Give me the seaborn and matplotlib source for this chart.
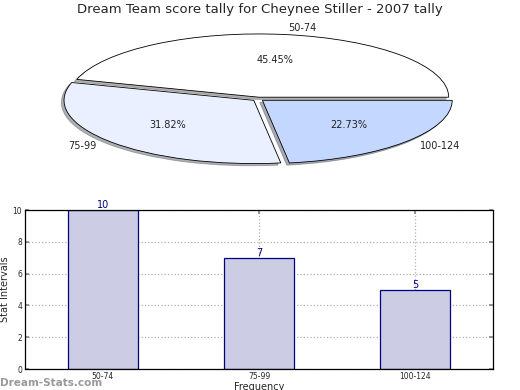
# =========================================================
# DREAM TEAM SCORE TALLY - PIE + BAR
# =========================================================

import numpy as np
import pandas as pd
import matplotlib
matplotlib.use("Agg")
import matplotlib.pyplot as plt
import seaborn as sns

# =========================================================
# DATA
# =========================================================

intervals = ["50-74", "75-99", "100-124"]
counts = [10, 7, 5]
pie_colors = ["#FFFFFF", "#EAF0FF", "#C4D8FF"]

title = "Dream Team score tally for Cheynee Stiller - 2007 tally"

# =========================================================
# STYLE
# =========================================================

sns.set_theme(style="white")
plt.rcParams['font.family'] = ['DejaVu Sans']

fig = plt.figure(figsize=(5.2, 3.9), dpi=100)

# =========================================================
# PIE CHART (flattened)
# =========================================================

ax_pie = fig.add_axes([0, 0.5513, 1, 0.3974])

wedges, texts, autotexts = ax_pie.pie(
    counts,
    labels=intervals,
    colors=pie_colors,
    explode=[0.03, 0.03, 0.03],
    autopct='%1.2f%%',
    startangle=0,
    shadow={'ox': -0.01, 'oy': -0.025, 'shade': 0.6},
    wedgeprops={'edgecolor': 'black', 'linewidth': 0.6},
    textprops={'fontsize': 7, 'color': '#222222'}
)

ax_pie.set_aspect('auto')
ax_pie.set_xlim(-1.36, 1.38)
ax_pie.set_ylim(-1.2, 1.25)
ax_pie.axis('off')

fig.text(0.5, 1 - 10 / 390, title, ha='center', va='center', fontsize=9.5)

# =========================================================
# BAR CHART
# =========================================================

ax_bar = fig.add_axes([0.048, 0.0538, 0.9, 0.4077])

df = pd.DataFrame({'Interval': intervals, 'Count': counts})

sns.barplot(
    data=df,
    x='Interval',
    y='Count',
    width=0.45,
    color='#CCCCE5',
    saturation=1,
    edgecolor='#000080',
    linewidth=0.9,
    ax=ax_bar
)

for i, v in enumerate(counts):
    ax_bar.text(i, v, str(v), ha='center', va='bottom', fontsize=7, color='#000080')

ax_bar.set_xlim(-0.5, 2.5)
ax_bar.set_ylim(0, 10)
ax_bar.set_yticks([0, 2, 4, 6, 8, 10])
ax_bar.grid(True, linestyle=':', color='#b0b0b0', linewidth=0.9)
ax_bar.set_axisbelow(True)

ax_bar.tick_params(axis='both', direction='in', length=3, labelsize=5.5,
                   top=True, right=True, bottom=True, left=True, pad=2,
                   color='#888888')
for spine in ax_bar.spines.values():
    spine.set_color('black')
    spine.set_linewidth(0.9)

ax_bar.set_ylabel("Stat Intervals", fontsize=7, labelpad=2)
ax_bar.set_xlabel("Frequency", fontsize=7, labelpad=1)

# watermark
fig.text(0.0, 0.005, "Dream-Stats.com", fontsize=7.5, fontweight='bold',
         color='#999999', ha='left', va='bottom')

plt.savefig("out.png", dpi=100)
